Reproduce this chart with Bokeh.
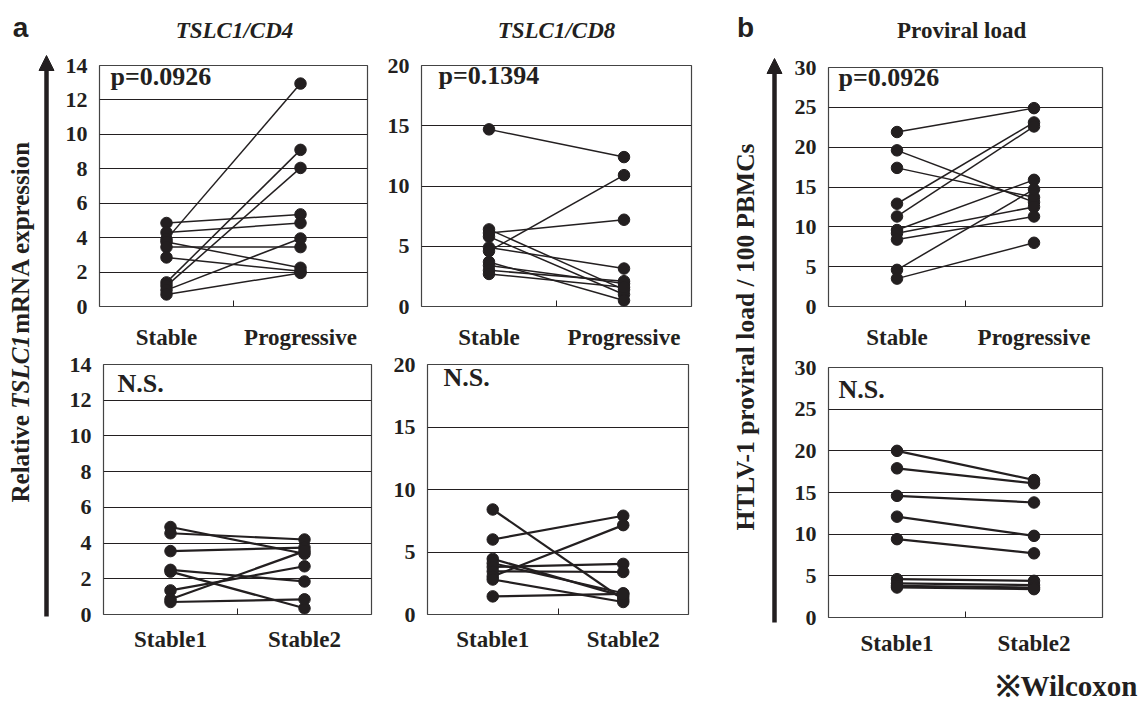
import math
from bokeh.plotting import figure
from bokeh.layouts import row, column
from bokeh.models import Range1d, FixedTicker, Label, Arrow, NormalHead, ColumnDataSource, Title
from bokeh.embed import file_html
from bokeh.resources import INLINE

SERIF = "Liberation Serif"
SANS = "Liberation Sans"
INK = "#231f20"

# ---------------- data ----------------
cats_prog = ["Stable", "Progressive"]
cats_stab = ["Stable1", "Stable2"]
panel_titles = ["TSLC1/CD4", "TSLC1/CD8", "Proviral load"]

cd4_ticks = [0, 2, 4, 6, 8, 10, 12, 14]
cd8_ticks = [0, 5, 10, 15, 20]
pvl_ticks = [0, 5, 10, 15, 20, 25, 30]

# TSLC1/CD4, Stable -> Progressive
cd4_stable = [4.85, 4.3, 3.9, 3.75, 3.45, 2.85, 1.4, 1.2, 0.95, 0.7]
cd4_progressive = [5.35, 4.85, 12.95, 2.25, 3.45, 2.05, 9.1, 8.05, 3.95, 1.95]
# TSLC1/CD8, Stable -> Progressive
cd8_stable = [14.7, 6.4, 6.1, 5.8, 4.9, 4.6, 3.7, 3.4, 3.0, 2.7]
cd8_progressive = [12.4, 1.4, 7.2, 1.0, 3.15, 10.9, 0.5, 1.9, 2.1, 1.6]
# Proviral load, Stable -> Progressive
pvl_stable = [21.9, 19.6, 17.4, 12.9, 11.3, 9.6, 9.2, 8.4, 4.6, 3.5]
pvl_progressive = [24.9, 13.1, 13.7, 23.1, 22.6, 15.9, 12.5, 11.3, 14.7, 8.0]

# TSLC1/CD4, Stable1 -> Stable2
cd4_s1 = [4.9, 4.55, 3.55, 2.5, 2.4, 1.35, 0.85, 0.7]
cd4_s2 = [3.4, 4.2, 3.75, 1.85, 0.35, 2.7, 3.55, 0.85]
# TSLC1/CD8, Stable1 -> Stable2
cd8_s1 = [8.4, 6.0, 4.45, 4.1, 3.8, 3.45, 3.05, 2.8, 1.45]
cd8_s2 = [1.2, 7.9, 1.45, 1.7, 4.05, 3.4, 7.15, 1.0, 1.65]
# Proviral load, Stable1 -> Stable2
pvl_s1 = [20.0, 17.9, 14.6, 12.1, 9.4, 4.6, 4.1, 3.8, 3.6]
pvl_s2 = [16.5, 16.1, 13.8, 9.8, 7.7, 4.4, 3.9, 3.6, 3.4]

notes = {"top_cd4": "p=0.0926", "top_cd8": "p=0.1394", "top_pvl": "p=0.0926",
         "bot": "N.S."}


def make_panel(cats, first, second, ticks, note, fw, fh, bl, br, bt, bb,
               lw, note_dx, note_dy, xstand=12):
    ymax = ticks[-1]
    p = figure(width=bl + fw + br, height=bt + fh + bb,
               x_range=Range1d(0, 2), y_range=Range1d(0, ymax),
               output_backend="svg", toolbar_location=None,
               min_border_left=bl, min_border_right=br,
               min_border_top=bt, min_border_bottom=bb)
    p.background_fill_color = "white"
    p.border_fill_color = "white"
    p.outline_line_color = "#444444"
    p.outline_line_width = 1.2

    xpos = {c: i + 0.5 for i, c in enumerate(cats)}
    n = len(first)
    src = ColumnDataSource(dict(x0=[xpos[cats[0]]] * n, y0=first,
                                x1=[xpos[cats[1]]] * n, y1=second))
    p.segment("x0", "y0", "x1", "y1", source=src, line_color=INK, line_width=lw)
    p.scatter("x0", "y0", source=src, size=11.5, color=INK)
    p.scatter("x1", "y1", source=src, size=11.5, color=INK)

    # x axis: category labels, tick mark between categories
    xa = p.xaxis[0]
    xa.ticker = FixedTicker(ticks=[0.5, 1.5], minor_ticks=[1.0])
    xa.major_label_overrides = {0.5: cats[0], 1.5: cats[1]}
    xa.major_tick_line_color = None
    xa.minor_tick_in = 6
    xa.minor_tick_out = 0
    xa.minor_tick_line_color = INK
    xa.axis_line_color = None
    xa.major_label_text_font = SERIF
    xa.major_label_text_font_style = "bold"
    xa.major_label_text_font_size = "23px"
    xa.major_label_text_color = INK
    xa.major_label_standoff = xstand

    ya = p.yaxis[0]
    ya.ticker = FixedTicker(ticks=ticks)
    ya.major_tick_in = 0
    ya.major_tick_out = 0
    ya.minor_tick_line_color = None
    ya.axis_line_color = None
    ya.major_label_text_font = SERIF
    ya.major_label_text_font_style = "bold"
    ya.major_label_text_font_size = "22px"
    ya.major_label_text_color = INK
    ya.major_label_standoff = 12

    p.xgrid.grid_line_color = None
    p.ygrid.ticker = FixedTicker(ticks=ticks)
    p.ygrid.grid_line_color = INK
    p.ygrid.grid_line_width = 1

    p.add_layout(Label(x=note_dx, y=fh - note_dy, x_units="screen", y_units="screen",
                       text=note, text_font=SERIF, text_font_style="bold",
                       text_font_size="26px", text_color=INK,
                       text_baseline="middle", text_align="left"))
    return p


def blank_fig(w, h):
    s = figure(width=w, height=h, x_range=Range1d(0, w), y_range=Range1d(0, h),
               output_backend="svg", toolbar_location=None, min_border=0,
               x_axis_location=None, y_axis_location=None)
    s.grid.visible = False
    s.outline_line_color = None
    s.background_fill_color = "white"
    s.border_fill_color = "white"
    return s


H = 710
TH = 45  # height of the title strip

# title strips
titleA = blank_fig(670, TH)
for txt, cx in [(panel_titles[0], 174), (panel_titles[1], 496)]:
    titleA.add_layout(Label(x=cx, y=TH - 30, text=txt, text_font=SERIF,
                            text_font_style="bold italic", text_font_size="23px",
                            text_color=INK, text_align="center", text_baseline="middle"))
titleB = blank_fig(358, TH)
titleB.add_layout(Label(x=174, y=TH - 30, text=panel_titles[2], text_font=SERIF,
                        text_font_style="bold", text_font_size="23px",
                        text_color=INK, text_align="center", text_baseline="middle"))

# top row (page y 45 -> 352), bottom row (352 -> 710)
f1 = make_panel(cats_prog, cd4_stable, cd4_progressive, cd4_ticks, notes["top_cd4"],
                fw=268, fh=249, bl=39, br=13, bt=20, bb=38, lw=1.5,
                note_dx=11, note_dy=19)
f2 = make_panel(cats_prog, cd8_stable, cd8_progressive, cd8_ticks, notes["top_cd8"],
                fw=270, fh=249, bl=41, br=39, bt=20, bb=38, lw=1.5,
                note_dx=17, note_dy=18)
f3 = make_panel(cats_stab, cd4_s1, cd4_s2, cd4_ticks, notes["bot"],
                fw=268, fh=250, bl=43, br=13, bt=12, bb=96, lw=2.2,
                note_dx=14, note_dy=19, xstand=6)
f4 = make_panel(cats_stab, cd8_s1, cd8_s2, cd8_ticks, notes["bot"],
                fw=261, fh=251, bl=43, br=42, bt=11, bb=96, lw=2.2,
                note_dx=16, note_dy=14, xstand=6)
f5 = make_panel(cats_prog, pvl_stable, pvl_progressive, pvl_ticks, notes["top_pvl"],
                fw=279, fh=249, bl=35, br=44, bt=22, bb=36, lw=1.5,
                note_dx=10, note_dy=20)
f6 = make_panel(cats_stab, pvl_s1, pvl_s2, pvl_ticks, notes["bot"],
                fw=277, fh=251, bl=40, br=41, bt=15, bb=92, lw=2.2,
                note_dx=10, note_dy=23, xstand=7)
f6.add_layout(Title(text="\u203bWilcoxon", align="right", offset=-35, standoff=18,
                    text_font=SERIF, text_font_style="bold", text_font_size="29px",
                    text_color=INK), "below")


def side_fig(w, letter, letter_x, parts, fsize, label_x, label_start,
             arrow_x, arrow_bottom, arrow_top):
    s = blank_fig(w, H)
    s.add_layout(Label(x=letter_x, y=H - 27, text=letter, text_font=SANS,
                       text_font_style="bold", text_font_size="28px", text_color=INK,
                       text_align="center", text_baseline="middle"))
    y = H - label_start
    for txt, style, em in parts:
        s.add_layout(Label(x=label_x, y=y, text=txt, angle=math.pi / 2,
                           text_font=SERIF, text_font_style=style,
                           text_font_size=f"{fsize}px", text_color=INK,
                           text_align="left", text_baseline="middle"))
        y += em * fsize
    s.add_layout(Arrow(x_start=arrow_x, y_start=H - arrow_bottom,
                       x_end=arrow_x, y_end=H - arrow_top,
                       line_width=4.5, line_color=INK,
                       end=NormalHead(size=15, fill_color=INK, line_color=INK)))
    return s


left = side_fig(60, "a", 20,
                [("Relative", "bold", 3.749), ("TSLC1", "bold italic", 3.0),
                 ("mRNA expression", "bold", 0)],
                25, label_x=20, label_start=502, arrow_x=46, arrow_bottom=616, arrow_top=55)
right = side_fig(58, "b", 15, [("HTLV-1 proviral load / 100 PBMCs", "bold", 0)],
                 25.5, label_x=15, label_start=530, arrow_x=44, arrow_bottom=622, arrow_top=58)

colA = column(titleA, row(f1, f2, spacing=0), row(f3, f4, spacing=0), spacing=0)
colB = column(titleB, f5, f6, spacing=0)
layout = row(left, colA, right, colB, spacing=0)

open("out.html", "w").write(file_html(layout, INLINE))
